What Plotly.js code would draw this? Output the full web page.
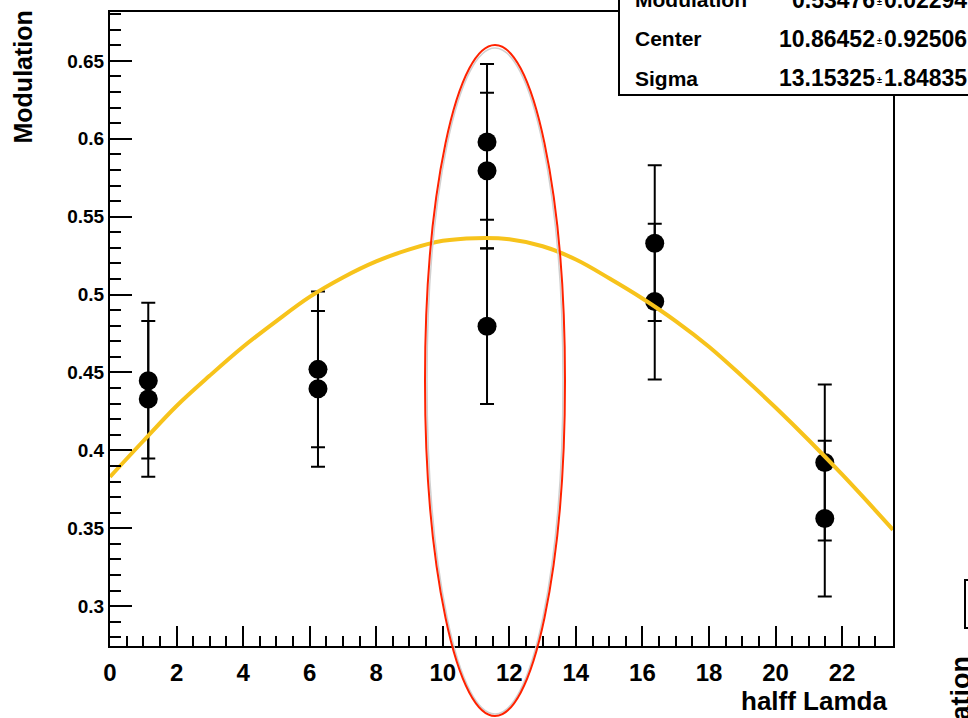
<!DOCTYPE html>
<html>
<head>
<meta charset="utf-8">
<script src="https://cdn.plot.ly/plotly-3.0.1.min.js"></script>
<style>html,body{margin:0;padding:0;background:#fff;}#chart{width:968px;height:718px;}</style>
</head>
<body>
<div id="chart"></div>
<script>
// Measured data points (two per x position)
const pointX = [1.15, 1.15, 6.25, 6.25, 11.33, 11.33, 11.33, 16.37, 16.37, 21.48, 21.48];
const pointY = [0.4447, 0.4330, 0.4520, 0.4395, 0.5980, 0.5795, 0.4797, 0.5330, 0.4955, 0.3922, 0.3562];
const pointErr = [0.050, 0.050, 0.050, 0.050, 0.050, 0.050, 0.050, 0.050, 0.050, 0.050, 0.050];

// Fit curve
const fitX = [0, 1, 2, 3, 4, 5, 6, 7, 8, 9, 10, 11, 12, 13, 14, 15, 16, 17, 18, 19, 20, 21, 22, 23, 23.53];
const fitY = [0.383, 0.406, 0.4285, 0.448, 0.4665, 0.4830, 0.4985, 0.5110, 0.5213, 0.529, 0.5345, 0.5362, 0.5355, 0.531, 0.5225, 0.5105, 0.4975, 0.4830, 0.4665, 0.4475, 0.4275, 0.4065, 0.3845, 0.3615, 0.349];

const yTickVals = [0.3, 0.35, 0.4, 0.45, 0.5, 0.55, 0.6, 0.65];
const yTickText = ["0.3", "0.35", "0.4", "0.45", "0.5", "0.55", "0.6", "0.65"];

const statNames = ["Modulation", "Center", "Sigma"];
const statValues = ["0.53476", "10.86452", "13.15325"];
const statErrors = ["0.02294", "0.92506", "1.84835"];

const W = 968, H = 718, L = 110, R = 75, T = 12, B = 72;
const pw = W - L - R, ph = H - T - B;
const px = v => (v - L) / pw;
const py = v => (H - B - v) / ph;

const bold = {family: "Liberation Sans, Arial, sans-serif", weight: "bold", color: "#000"};
const f = (size) => Object.assign({}, bold, {size: size});

const traces = [
  {
    type: "scatter", mode: "markers", x: pointX, y: pointY,
    marker: {color: "#000", size: 19, symbol: "circle"},
    error_y: {type: "data", array: pointErr, visible: true, color: "#000", thickness: 2, width: 7},
    hoverinfo: "skip", showlegend: false
  },
  {
    type: "scatter", mode: "lines", x: fitX, y: fitY,
    line: {color: "#f7c31b", width: 4, shape: "spline", smoothing: 1},
    hoverinfo: "skip", showlegend: false
  }
];

const annotations = [
  {text: "Modulation", textangle: -90, xref: "paper", yref: "paper", x: px(22), y: py(9), xanchor: "center", yanchor: "top", showarrow: false, font: f(25)},
  {text: "halff Lamda", xref: "paper", yref: "paper", x: px(889), y: py(701), xanchor: "right", yanchor: "middle", showarrow: false, font: f(26)},
  {text: "Modulation", textangle: -90, xref: "paper", yref: "paper", x: px(961), y: py(654), xanchor: "center", yanchor: "top", showarrow: false, font: f(27)}
];
const rowY = [0, 39, 78];
for (let i = 0; i < statNames.length; i++) {
  annotations.push({text: statNames[i], xref: "paper", yref: "paper", x: px(633), y: py(rowY[i]), xanchor: "left", yanchor: "middle", showarrow: false, font: f(21)});
  annotations.push({text: statValues[i], xref: "paper", yref: "paper", x: px(877), y: py(rowY[i]), xanchor: "right", yanchor: "middle", showarrow: false, font: f(23)});
  annotations.push({text: "±", xref: "paper", yref: "paper", x: px(879), y: py(rowY[i] + 2), xanchor: "center", yanchor: "middle", showarrow: false, font: f(9)});
  annotations.push({text: statErrors[i], xref: "paper", yref: "paper", x: px(882), y: py(rowY[i]), xanchor: "left", yanchor: "middle", showarrow: false, font: f(23)});
}

const shapes = [
  {type: "rect", xref: "paper", yref: "paper", x0: px(619), x1: px(1000), y0: py(95), y1: py(-20), line: {color: "#000", width: 2}, fillcolor: "#fff", layer: "above"},
  {type: "rect", xref: "paper", yref: "paper", x0: px(965), x1: px(1000), y0: py(628), y1: py(580), line: {color: "#000", width: 2}, fillcolor: "rgba(0,0,0,0)", layer: "above"},
  {type: "circle", xref: "paper", yref: "paper", x0: px(427), x1: px(563), y0: py(714), y1: py(48), line: {color: "#d0d0d0", width: 1.5}, layer: "above"},
  {type: "circle", xref: "paper", yref: "paper", x0: px(425), x1: px(565), y0: py(716), y1: py(45), line: {color: "#ff2200", width: 2}, layer: "above"}
];

const layout = {
  width: W, height: H,
  margin: {l: L, r: R, t: T, b: B, pad: 0},
  paper_bgcolor: "#fff", plot_bgcolor: "#fff",
  showlegend: false,
  xaxis: {
    range: [0, 23.53], tick0: 0, dtick: 2, ticks: "inside", ticklen: 20, tickwidth: 2, tickcolor: "#000",
    minor: {ticks: "inside", ticklen: 10, dtick: 0.5, tickwidth: 2, tickcolor: "#000", showgrid: false},
    showgrid: false, zeroline: false, showline: true, linewidth: 2, linecolor: "#000", mirror: true,
    tickfont: f(24), ticklabelstandoff: 4
  },
  yaxis: {
    range: [0.2744, 0.6814], tickvals: yTickVals, ticktext: yTickText, ticks: "inside", ticklen: 22, tickwidth: 2, tickcolor: "#000",
    minor: {ticks: "inside", ticklen: 11, dtick: 0.01, tick0: 0.3, tickwidth: 2, tickcolor: "#000", showgrid: false},
    showgrid: false, zeroline: false, showline: true, linewidth: 2, linecolor: "#000", mirror: true,
    tickfont: f(19)
  },
  annotations: annotations,
  shapes: shapes
};

Plotly.newPlot("chart", traces, layout, {displayModeBar: false, staticPlot: true});
</script>
</body>
</html>
